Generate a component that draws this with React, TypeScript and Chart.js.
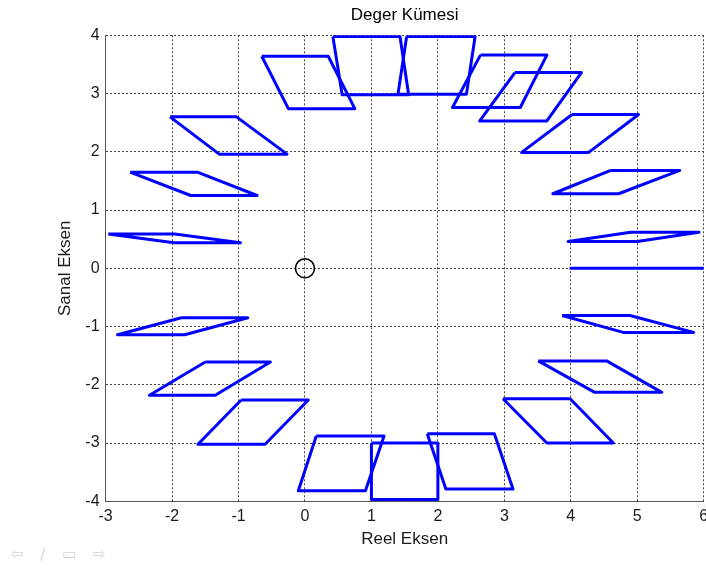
import React, { useEffect, useRef } from "react";
import { Chart, registerables } from "chart.js";

Chart.register(...registerables);

// Value-set polygons: every one has a horizontal top edge and a horizontal bottom edge.
const topLeftX = [5.0, 4.9, 4.6, 4.02, 3.16, 2.64, 1.53, 0.42, -0.65, -2.03, -2.63, -2.96, -1.86, -1.5, -0.96, 0.17, 1.0, 1.84, 2.98, 3.51, 3.87];
const topRightX = [6.0, 5.93, 5.64, 5.02, 4.16, 3.64, 2.56, 1.43, 0.35, -1.03, -1.62, -1.96, -0.86, -0.52, 0.05, 1.19, 2.0, 2.85, 3.99, 4.54, 4.89];
const bottomRightX = [5.0, 5.0, 4.72, 4.27, 3.64, 3.24, 2.43, 1.56, 0.75, -0.27, -0.72, -0.97, -1.81, -1.35, -0.6, 0.91, 2.0, 3.13, 4.64, 5.37, 5.85];
const bottomLeftX = [4.0, 3.96, 3.73, 3.26, 2.63, 2.22, 1.4, 0.56, -0.25, -1.29, -1.72, -1.97, -2.82, -2.34, -1.61, -0.1, 1.0, 2.12, 3.64, 4.36, 4.79];
const topY = [0, 0.62, 1.68, 2.64, 3.36, 3.66, 3.98, 3.98, 3.64, 2.6, 1.65, 0.59, -0.85, -1.61, -2.26, -2.88, -3.0, -2.84, -2.24, -1.59, -0.81];
const bottomY = [0, 0.46, 1.28, 1.99, 2.53, 2.76, 2.99, 2.98, 2.74, 1.96, 1.25, 0.44, -1.14, -2.18, -3.02, -3.82, -3.97, -3.79, -3.0, -2.13, -1.1];

// Origin marker
const originX = [0];
const originY = [0];

const xTicks = [-3, -2, -1, 0, 1, 2, 3, 4, 5, 6];
const yTicks = [-4, -3, -2, -1, 0, 1, 2, 3, 4];

const chartTitle = "Deger Kümesi";
const xTitle = "Reel Eksen";
const yTitle = "Sanal Eksen";

const FONT = "'Liberation Sans', Arial, Helvetica, sans-serif";
const TEXT = "#1a1a1a";

export default function App() {
  const canvasRef = useRef<HTMLCanvasElement | null>(null);

  useEffect(() => {
    const canvas = canvasRef.current;
    if (!canvas) return;

    const polygons = topLeftX.map((_, i) => ({
      label: `kume-${i + 1}`,
      data: [
        { x: topLeftX[i], y: topY[i] },
        { x: topRightX[i], y: topY[i] },
        { x: bottomRightX[i], y: bottomY[i] },
        { x: bottomLeftX[i], y: bottomY[i] },
        { x: topLeftX[i], y: topY[i] },
      ],
      showLine: true,
      borderColor: "#0000ff",
      backgroundColor: "#0000ff",
      borderWidth: 3,
      pointRadius: 0,
      tension: 0,
      fill: false,
      borderJoinStyle: "round" as const,
    }));

    const origin = {
      label: "origin",
      data: originX.map((x, i) => ({ x, y: originY[i] })),
      showLine: false,
      pointRadius: 9.5,
      pointStyle: "circle" as const,
      pointBorderColor: "#000000",
      pointBackgroundColor: "rgba(0,0,0,0)",
      pointBorderWidth: 1.6,
    };

    const zeroSidePadding = (scale: any) => {
      scale.paddingLeft = 0;
      scale.paddingRight = 0;
      if (scale._margins) {
        scale._margins.left = 0;
        scale._margins.right = 0;
      }
    };

    const chart = new Chart(canvas, {
      type: "scatter",
      data: { datasets: [...polygons, origin] as any },
      options: {
        responsive: false,
        animation: false,
        devicePixelRatio: 1,
        layout: { autoPadding: false, padding: { left: 0, right: 2.3, top: 0, bottom: 0 } },
        plugins: {
          legend: { display: false },
          tooltip: { enabled: false },
          title: {
            display: true,
            fullSize: false,
            text: chartTitle,
            color: "#000",
            font: { family: FONT, size: 17, weight: "normal" },
            padding: { top: 5.3, bottom: 9.6 },
          },
        },
        scales: {
          x: {
            type: "linear",
            min: xTicks[0],
            max: xTicks[xTicks.length - 1],
            afterBuildTicks: (scale: any) => {
              scale.ticks = xTicks.map((v) => ({ value: v }));
            },
            afterFit: (scale: any) => {
              scale.height = 66.7;
              zeroSidePadding(scale);
            },
            ticks: {
              color: TEXT,
              font: { family: FONT, size: 16 },
              padding: 6,
              maxRotation: 0,
              autoSkip: false,
            },
            grid: {
              color: "#444",
              lineWidth: 1,
              drawTicks: false,
            },
            border: { display: true, color: "#555", width: 1, dash: [2, 2] },
            title: {
              display: true,
              text: xTitle,
              color: TEXT,
              font: { family: FONT, size: 17 },
              padding: { top: 0, bottom: 18.8 },
            },
          },
          y: {
            type: "linear",
            min: yTicks[0],
            max: yTicks[yTicks.length - 1],
            afterBuildTicks: (scale: any) => {
              scale.ticks = yTicks.map((v) => ({ value: v }));
            },
            afterFit: (scale: any) => {
              scale.width = 105.6;
              scale.paddingTop = 0;
              scale.paddingBottom = 0;
            },
            ticks: {
              color: TEXT,
              font: { family: FONT, size: 16 },
              padding: 6,
              autoSkip: false,
            },
            grid: {
              color: "#444",
              lineWidth: 1,
              drawTicks: false,
            },
            border: { display: true, color: "#555", width: 1, dash: [2, 2] },
            title: {
              display: true,
              text: yTitle,
              color: TEXT,
              font: { family: FONT, size: 17 },
              padding: { top: 54.8, bottom: 0 },
            },
          },
        },
      },
    });

    return () => chart.destroy();
  }, []);

  return (
    <div
      style={{
        position: "fixed",
        left: 0,
        top: 0,
        width: 706,
        height: 568,
        background: "#ffffff",
      }}
    >
      <canvas ref={canvasRef} width={706} height={568} style={{ width: 706, height: 568, display: "block" }} />
      <div
        style={{
          position: "absolute",
          left: 11,
          top: 545,
          fontFamily: "'DejaVu Sans', sans-serif",
          fontSize: 15,
          color: "#d2d2d2",
          letterSpacing: 6,
          whiteSpace: "nowrap",
        }}
      >
        ⇦ ∕ ▭ ⇨
      </div>
    </div>
  );
}
